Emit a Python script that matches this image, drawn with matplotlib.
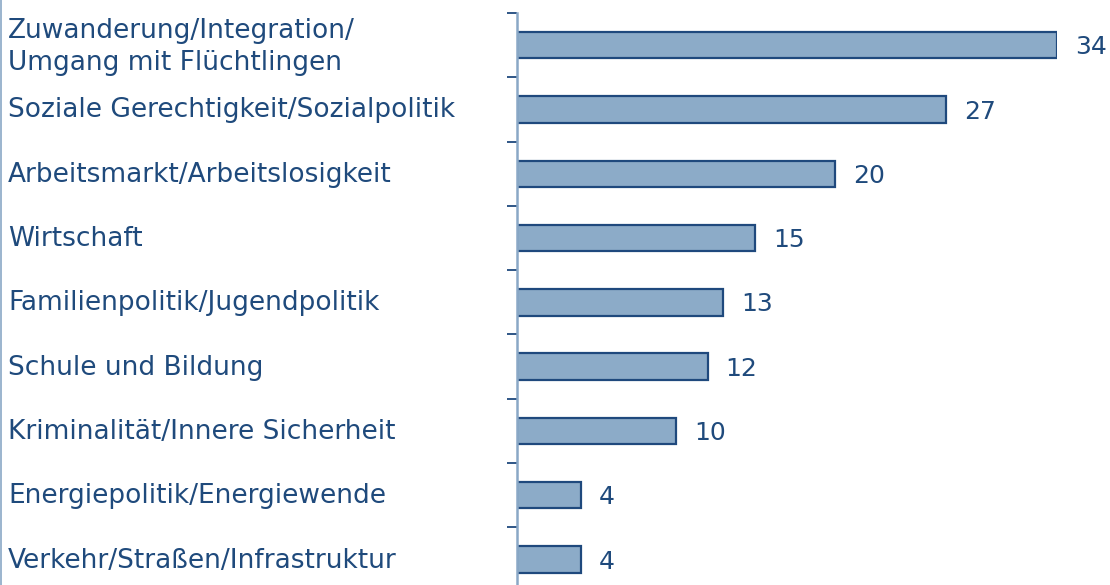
import matplotlib
matplotlib.use("Agg")
import matplotlib.pyplot as plt
import numpy as np

Categories = [
    "Zuwanderung/Integration/\nUmgang mit Flüchtlingen",
    "Soziale Gerechtigkeit/Sozialpolitik",
    "Arbeitsmarkt/Arbeitslosigkeit",
    "Wirtschaft",
    "Familienpolitik/Jugendpolitik",
    "Schule und Bildung",
    "Kriminalität/Innere Sicherheit",
    "Energiepolitik/Energiewende",
    "Verkehr/Straßen/Infrastruktur",
]
Values = [34, 27, 20, 15, 13, 12, 10, 4, 4]

BarColor = "#8cabc8"
EdgeColor = "#1f497d"
TextColor = "#1f4a7c"
SpineColor = "#8aa8c6"

W, H = 1110, 585
Fig = plt.figure(figsize=(W / 100, H / 100), dpi=100)

# axes placed in pixel terms: x from 517 to 1057, y from 13 to ~592
Top = 13
Step = 64.3
Bottom = Top + Step * len(Categories)
Ax = Fig.add_axes([517 / W, (H - Bottom) / H, (1057 - 517) / W, (Bottom - Top) / H])

Pos = np.arange(len(Categories))
Ax.barh(Pos, Values, height=0.41, color=BarColor, edgecolor=EdgeColor, linewidth=1.6)
Ax.set_xlim(0, 34)
Ax.set_ylim(len(Categories) - 0.5, -0.5)

for i, v in enumerate(Values):
    Ax.annotate(str(v), (v, i), xytext=(13, -1.5), textcoords="offset points",
                ha="left", va="center", fontsize=18, color=TextColor,
                annotation_clip=False)

for i, c in enumerate(Categories):
    y = (Top + Step * (i + 0.5)) + (2 if "\n" in c else 1)
    Fig.text(8 / W, 1 - y / H, c, ha="left", va="center", fontsize=19,
             color=TextColor, linespacing=1.3)

for s in ["top", "right", "bottom"]:
    Ax.spines[s].set_visible(False)
Ax.spines["left"].set_color(SpineColor)
Ax.spines["left"].set_linewidth(1.8)
Ax.set_xticks([])
Ax.set_yticks(np.arange(len(Categories) + 1) - 0.5)
Ax.set_yticklabels([])
Ax.tick_params(axis="y", direction="out", length=7, width=1.3, color=EdgeColor)

# thin frame line on the left edge
Fig.add_artist(plt.Line2D([0.7 / W, 0.7 / W], [0, 1], color=SpineColor, linewidth=1.2))

Fig.savefig("out.png", dpi=100)
